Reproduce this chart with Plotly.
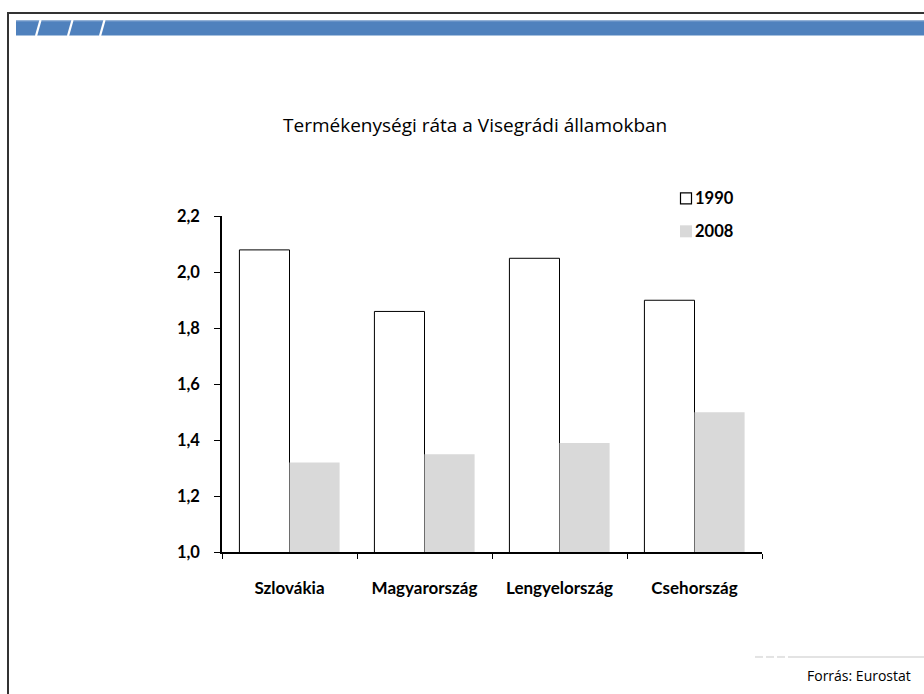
import plotly.graph_objects as go

W, H = 924, 694

categories = ["Szlovákia", "Magyarország", "Lengyelország", "Csehország"]
series_names = ["1990", "2008"]
values_1990 = [2.08, 1.86, 2.05, 1.90]
values_2008 = [1.32, 1.35, 1.39, 1.50]
y_ticks = [1.0, 1.2, 1.4, 1.6, 1.8, 2.0, 2.2]

title_text = "Termékenységi ráta a Visegrádi államokban"
source_text = "Forrás: Eurostat"

# the page photograph maps figure pixel p to screen row 9.5 + 0.972 * p
SCR_TOP, SCR_SCALE = 9.5, 0.972


def fx(px):
    return px / W


def fy(py):
    p = (py - SCR_TOP) / SCR_SCALE
    return 1 - p / H


BOLD_FONT = dict(family="Lato", size=16.5, color="#000000", weight="bold")
CAT_FONT = dict(family="Lato", size=17, color="#000000", weight="bold")

fig = go.Figure()
fig.add_trace(go.Bar(
    x=categories, y=values_1990, name=series_names[0],
    marker=dict(color="#ffffff", line=dict(color="#000000", width=1)),
))
fig.add_trace(go.Bar(
    x=categories, y=values_2008, name=series_names[1],
    marker=dict(color="#d9d9d9", line=dict(width=0)),
))

shapes = []
# slide frame
shapes.append(dict(type="line", xref="paper", yref="paper",
                   x0=fx(7), x1=fx(930), y0=fy(12.5), y1=fy(12.5),
                   line=dict(color="#333333", width=2.2)))
shapes.append(dict(type="line", xref="paper", yref="paper",
                   x0=fx(8), x1=fx(8), y0=fy(11.5), y1=fy(720),
                   line=dict(color="#333333", width=2)))
# blue header band
shapes.append(dict(type="rect", xref="paper", yref="paper",
                   x0=fx(16), x1=fx(930), y0=fy(35), y1=fy(20),
                   fillcolor="#4f81bd", line=dict(width=0), layer="above"))
shapes.append(dict(type="line", xref="paper", yref="paper",
                   x0=fx(16), x1=fx(930), y0=fy(20.5), y1=fy(20.5),
                   line=dict(color="#7fa3cf", width=1), layer="above"))
for sx in (39, 71, 103):
    shapes.append(dict(type="line", xref="paper", yref="paper",
                       x0=fx(sx + 1.5), x1=fx(sx - 3), y0=fy(19.5), y1=fy(35.5),
                       line=dict(color="#ffffff", width=2.2), layer="above"))
# footer line (dashed start, then solid)
for a, b in ((755, 763), (766, 774), (777, 785)):
    shapes.append(dict(type="line", xref="paper", yref="paper",
                       x0=fx(a), x1=fx(b), y0=fy(657), y1=fy(657),
                       line=dict(color="#e3e3e3", width=2)))
shapes.append(dict(type="line", xref="paper", yref="paper",
                   x0=fx(788), x1=fx(930), y0=fy(657), y1=fy(657),
                   line=dict(color="#e3e3e3", width=2)))
# legend squares
shapes.append(dict(type="rect", xref="paper", yref="paper",
                   x0=fx(680.5), x1=fx(691.5), y0=fy(203.5), y1=fy(192.5),
                   fillcolor="#ffffff", line=dict(color="#000000", width=1.2)))
shapes.append(dict(type="rect", xref="paper", yref="paper",
                   x0=fx(680), x1=fx(692), y0=fy(237), y1=fy(225),
                   fillcolor="#d9d9d9", line=dict(width=0)))

annotations = [
    dict(text=title_text, xref="paper", yref="paper", x=fx(475), y=fy(125),
         xanchor="center", yanchor="middle", showarrow=False,
         font=dict(family="Open Sans", size=19, color="#000000")),
    dict(text=source_text, xref="paper", yref="paper", x=fx(913), y=fy(676),
         xanchor="right", yanchor="middle", showarrow=False,
         font=dict(family="Open Sans", size=14, color="#000000")),
    dict(text=series_names[0], xref="paper", yref="paper",
         x=fx(693), y=fy(198), xanchor="left", yanchor="middle", showarrow=False,
         font=BOLD_FONT),
    dict(text=series_names[1], xref="paper", yref="paper",
         x=fx(693), y=fy(231), xanchor="left", yanchor="middle", showarrow=False,
         font=BOLD_FONT),
]

fig.update_layout(
    width=W, height=H, autosize=False,
    margin=dict(l=0, r=0, t=0, b=0, pad=0),
    paper_bgcolor="#ffffff", plot_bgcolor="#ffffff",
    barmode="group", bargap=0.258, bargroupgap=0,
    showlegend=False,
    separators=", ",
    shapes=shapes, annotations=annotations,
    xaxis=dict(
        domain=[fx(222), fx(762)],
        showline=True, linecolor="#000000", linewidth=1.5,
        ticks="outside", ticklen=5, tickwidth=1.3, tickcolor="#000000",
        tickson="boundaries", showgrid=False,
        tickfont=CAT_FONT,
        ticklabelstandoff=20,
    ),
    yaxis=dict(
        domain=[fy(552), fy(216)],
        range=[1.0, 2.2], tickvals=y_ticks, tickformat=".1f",
        showline=True, linecolor="#000000", linewidth=1.5,
        ticks="outside", ticklen=6, tickwidth=1.3, tickcolor="#000000",
        showgrid=False, zeroline=False,
        tickfont=BOLD_FONT,
        ticklabelstandoff=11,
    ),
)

post = (
    "document.documentElement.style.margin='0';"
    "document.documentElement.style.overflow='hidden';"
    "document.body.style.margin='0';"
    "document.body.style.overflow='hidden';"
    "var d=document.getElementById('{plot_id}');"
    "d.style.position='fixed';d.style.top='0px';d.style.left='0px';"
)

fig.write_html("out.html", config={"displayModeBar": False}, post_script=post)
